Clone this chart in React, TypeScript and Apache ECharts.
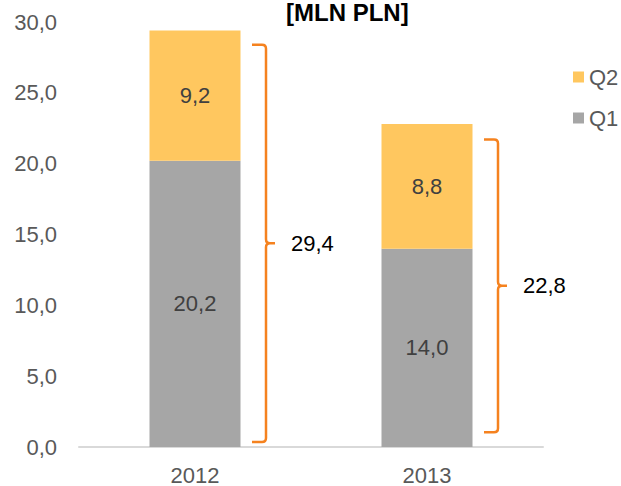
import React, { useEffect, useRef } from "react";
import * as echarts from "echarts";

const categories = ["2012", "2013"];
const q1Values = [20.2, 14.0];
const q2Values = [9.2, 8.8];
const braceLow = [0.35, 1.05];
const braceHigh = [28.4, 21.7];
const seriesNames = ["Q2", "Q1"];
const title = "[MLN PLN]";

const FONT = '"Liberation Sans", Arial, sans-serif';
const ORANGE = "#F5821F";
const GRAY = "#A6A6A6";
const YELLOW = "#FFC75F";

const fmt = (v: number) => v.toFixed(1).replace(".", ",");

export default function App() {
  const ref = useRef<HTMLDivElement>(null);
  useEffect(() => {
    if (!ref.current) return;
    const chart = echarts.init(ref.current, null, { renderer: "svg" });
    const totals = q1Values.map((v, i) => +(v + q2Values[i]).toFixed(1));
    const braceData = categories.map((_, i) => [i, braceLow[i], braceHigh[i], totals[i]]);

    const renderBrace = (params: any, api: any) => {
      const idx = api.value(0);
      const low = api.value(1);
      const high = api.value(2);
      const total = api.value(3);
      const cx = api.coord([idx, 0])[0];
      const yB = api.coord([idx, low])[1];
      const yT = api.coord([idx, high])[1];
      const yM = (yB + yT) / 2;
      const x0 = cx + 57;
      const x1 = x0 + 14;
      const r = 4;
      const d =
        `M${x0} ${yT} L${x1 - r} ${yT} Q${x1} ${yT} ${x1} ${yT + r} L${x1} ${yM - r} ` +
        `Q${x1} ${yM} ${x1 + r} ${yM} L${x1 + 9} ${yM} M${x1 + r} ${yM} ` +
        `Q${x1} ${yM} ${x1} ${yM + r} L${x1} ${yB - r} Q${x1} ${yB} ${x1 - r} ${yB} L${x0} ${yB}`;
      return {
        type: "group",
        children: [
          {
            type: "path",
            shape: { pathData: d },
            style: { fill: "none", stroke: ORANGE, lineWidth: 2.5 },
          },
          {
            type: "text",
            x: x1 + 25,
            y: yM,
            style: {
              text: fmt(total),
              fill: "#000000",
              fontSize: 22,
              fontFamily: FONT,
              align: "left",
              verticalAlign: "middle",
            },
          },
        ],
      };
    };

    chart.setOption({
      animation: false,
      backgroundColor: "#ffffff",
      textStyle: { fontFamily: FONT },
      graphic: [
        {
          type: "text",
          left: 286,
          top: 0,
          style: {
            text: title,
            fill: "#000000",
            fontSize: 24,
            fontWeight: "bold",
            fontFamily: FONT,
          },
        },
      ],
      legend: {
        data: seriesNames,
        orient: "vertical",
        left: 568,
        top: 61,
        itemWidth: 11,
        itemHeight: 11,
        itemGap: 19,
        icon: "rect",
        textStyle: { fontSize: 22, color: "#595959", fontFamily: FONT },
      },
      grid: { left: 79, right: 78, top: 22, bottom: 38 },
      xAxis: {
        type: "category",
        data: categories,
        axisLine: { lineStyle: { color: "#D9D9D9", width: 2 } },
        axisTick: { show: false },
        axisLabel: { fontSize: 22, color: "#595959", margin: 17, fontFamily: FONT },
      },
      yAxis: {
        type: "value",
        min: 0,
        max: 30,
        interval: 5,
        axisLine: { show: false },
        axisTick: { show: false },
        splitLine: { show: false },
        axisLabel: {
          fontSize: 22,
          color: "#595959",
          margin: 22,
          fontFamily: FONT,
          formatter: (v: number) => fmt(v),
        },
      },
      series: [
        {
          name: "Q1",
          type: "bar",
          stack: "total",
          data: q1Values,
          barWidth: 91,
          itemStyle: { color: GRAY },
          label: {
            show: true,
            position: "inside",
            formatter: (p: any) => fmt(p.value),
            fontSize: 22,
            color: "#404040",
            fontFamily: FONT,
          },
        },
        {
          name: "Q2",
          type: "bar",
          stack: "total",
          data: q2Values,
          barWidth: 91,
          itemStyle: { color: YELLOW },
          label: {
            show: true,
            position: "inside",
            formatter: (p: any) => fmt(p.value),
            fontSize: 22,
            color: "#404040",
            fontFamily: FONT,
          },
        },
        {
          name: "brace",
          type: "custom",
          renderItem: renderBrace,
          data: braceData,
          clip: false,
          z: 5,
          silent: true,
        },
      ],
    });
    return () => chart.dispose();
  }, []);
  return (
    <div
      ref={ref}
      style={{ position: "absolute", left: 0, top: 0, width: 621, height: 486 }}
    />
  );
}
